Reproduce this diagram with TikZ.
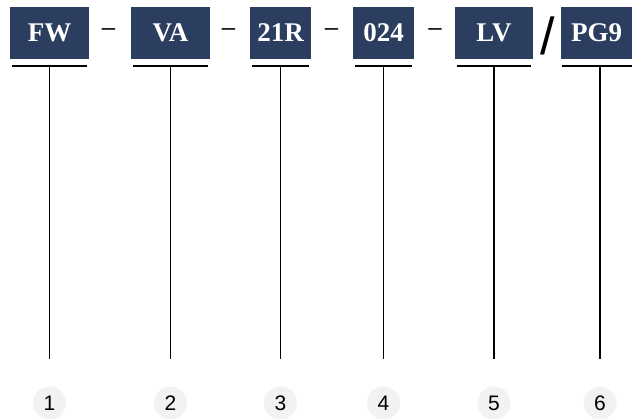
\documentclass[tikz,border=0pt]{standalone}
\usepackage{fontspec}
\usepackage{xcolor}
\setmainfont{Liberation Serif}
\newfontfamily\numfont{Liberation Sans}
\definecolor{codeblue}{RGB}{44,62,96}
\definecolor{numgray}{RGB}{242,242,242}
\tikzset{
  codebox/.style={fill=codeblue,text=white,inner sep=0pt,minimum height=52pt,
    font=\fontsize{27}{27}\selectfont\bfseries},
  numdot/.style={circle,fill=numgray,minimum size=33pt,inner sep=0pt,
    font=\numfont\fontsize{21}{21}\selectfont},
  sep/.style={inner sep=0pt,font=\numfont\fontsize{24}{24}\selectfont},
  rule/.style={line width=1.5pt}
}
\begin{document}
\begin{tikzpicture}[x=1pt,y=-1pt]
\useasboundingbox (0,0) rectangle (632,419);

% code boxes
\node[codebox,minimum width=79pt] (fw) at (49.5,33) {FW};
\node[codebox,minimum width=79pt] (va) at (170.5,33) {VA};
\node[codebox,minimum width=61pt] (r21) at (280.5,33) {21R};
\node[codebox,minimum width=61pt] (c024) at (383.5,33) {024};
\node[codebox,minimum width=78pt] (lv) at (494,33) {LV};
\node[codebox,minimum width=71pt] (pg) at (596.5,33) {PG9};

% separators
\node[sep] (d1) at (108.5,32) {–};
\node[sep] (d2) at (228.5,32) {–};
\node[sep] (d3) at (331.5,32) {–};
\node[sep] (d4) at (435,32) {–};
\node[inner sep=0pt,font=\numfont\fontsize{52}{52}\selectfont] (sl) at (547.5,36) {/};

% numbers
\node[numdot] (n1) at (49.5,403) {1};
\node[numdot] (n2) at (170.5,403) {2};
\node[numdot] (n3) at (280.5,403) {3};
\node[numdot] (n4) at (383.5,403) {4};
\node[numdot] (n5) at (494,403) {5};
\node[numdot] (n6) at (600,403) {6};

% underlines and leaders
\draw[rule] ([shift={(2,7)}]fw.south west) -- ([shift={(-2,7)}]fw.south east);
\draw[rule] ([yshift=-7pt]fw.south) -- ([yshift=27pt]n1.north);
\draw[rule] ([shift={(2,7)}]va.south west) -- ([shift={(-2,7)}]va.south east);
\draw[rule] ([yshift=-7pt]va.south) -- ([yshift=27pt]n2.north);
\draw[rule] ([shift={(2,7)}]r21.south west) -- ([shift={(-2,7)}]r21.south east);
\draw[rule] ([yshift=-7pt]r21.south) -- ([yshift=27pt]n3.north);
\draw[rule] ([shift={(2,7)}]c024.south west) -- ([shift={(-2,7)}]c024.south east);
\draw[rule] ([yshift=-7pt]c024.south) -- ([yshift=27pt]n4.north);
\draw[rule] ([shift={(2,7)}]lv.south west) -- ([shift={(-2,7)}]lv.south east);
\draw[rule] ([yshift=-7pt]lv.south) -- ([yshift=27pt]n5.north);
\draw[rule] ([shift={(1,7)}]pg.south west) -- ([shift={(0,7)}]pg.south east);
\draw[rule] ([yshift=-7pt]pg.south -| n6) -- ([yshift=27pt]n6.north);
\end{tikzpicture}
\end{document}
